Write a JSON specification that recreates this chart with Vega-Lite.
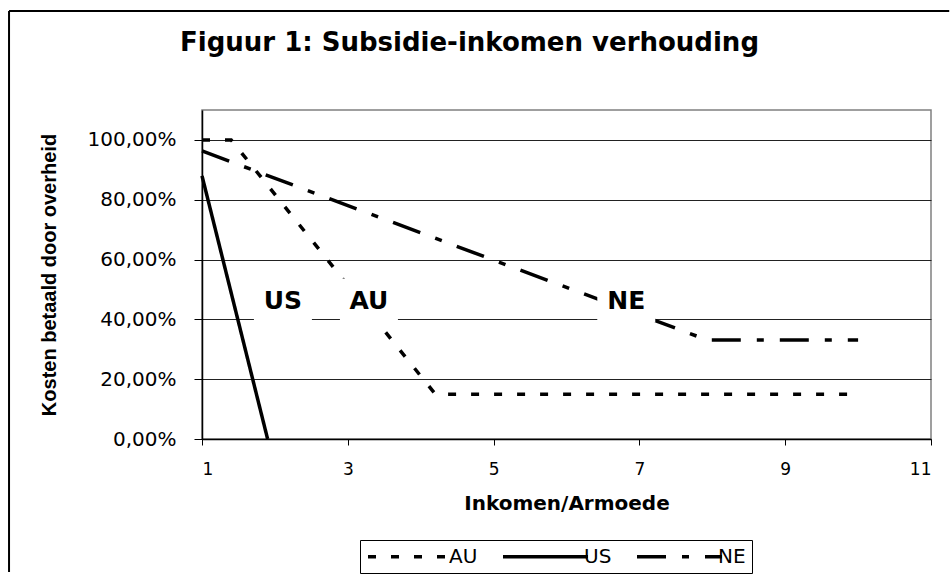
{
  "$schema": "https://vega.github.io/schema/vega-lite/v6.json",
  "width": 729,
  "height": 329,
  "autosize": {"type": "none"},
  "padding": {"left": 202, "top": 110, "right": 21, "bottom": 135},
  "background": "white",
  "title": {
    "text": "Figuur 1: Subsidie-inkomen verhouding",
    "font": "DejaVu Sans",
    "fontSize": 26,
    "fontWeight": "bold",
    "color": "black",
    "anchor": "middle",
    "frame": "group",
    "dx": -97,
    "offset": -67,
    "baseline": "alphabetic"
  },
  "config": {
    "locale": {"number": {"decimal": ",", "thousands": ".", "grouping": [3], "currency": ["€ ", ""]}},
    "view": {"stroke": "#808080", "strokeWidth": 1.5},
    "axis": {
      "domainColor": "black",
      "tickColor": "black",
      "labelColor": "black",
      "titleColor": "black",
      "labelFont": "DejaVu Sans",
      "titleFont": "DejaVu Sans"
    }
  },
  "datasets": {
    "lines": [
      {"series": "AU", "x": 1, "y": 1.0},
      {"series": "AU", "x": 1.4, "y": 1.0},
      {"series": "AU", "x": 4.2, "y": 0.15},
      {"series": "AU", "x": 10, "y": 0.15},
      {"series": "US", "x": 1, "y": 0.88},
      {"series": "US", "x": 1.9, "y": 0.0},
      {"series": "NE", "x": 1, "y": 0.963},
      {"series": "NE", "x": 7.93, "y": 0.331},
      {"series": "NE", "x": 10, "y": 0.331}
    ],
    "labels": [
      {"label": "US", "x": 2.11, "y": 0.463},
      {"label": "AU", "x": 3.29, "y": 0.463},
      {"label": "NE", "x": 6.82, "y": 0.463}
    ],
    "frame": [
      {"left": -1.647, "right": 11.25, "top": 1.431, "bottom": -0.445}
    ]
  },
  "layer": [
    {
      "data": {"name": "lines"},
      "mark": {"type": "line", "strokeWidth": 3.5, "color": "black", "strokeCap": "butt"},
      "encoding": {
        "x": {
          "field": "x",
          "type": "quantitative",
          "scale": {"domain": [1, 11], "nice": false, "zero": false},
          "axis": {
            "values": [1, 3, 5, 7, 9, 11],
            "format": "d",
            "title": "Inkomen/Armoede",
            "grid": false,
            "tickSize": 6,
            "domainWidth": 1.5,
            "labelFontSize": 17,
            "labelPadding": 16,
            "titleFontSize": 20,
            "titleFontWeight": "bold",
            "titlePadding": 16
          }
        },
        "y": {
          "field": "y",
          "type": "quantitative",
          "scale": {"domain": [0, 1.1], "nice": false},
          "axis": {
            "values": [0, 0.2, 0.4, 0.6, 0.8, 1.0],
            "format": ".2%",
            "title": "Kosten betaald door overheid",
            "grid": true,
            "gridColor": "#222222",
            "gridWidth": 1.2,
            "tickSize": 8,
            "domainWidth": 1.5,
            "labelFontSize": 20,
            "labelPadding": 18,
            "titleFont": "Liberation Sans",
            "titleFontSize": 20,
            "titleFontWeight": "bold",
            "titlePadding": 28
          }
        },
        "strokeDash": {
          "field": "series",
          "type": "nominal",
          "scale": {"domain": ["AU", "US", "NE"], "range": [[8, 15], [1, 0], [29, 16, 7, 16]]},
          "legend": {
            "orient": "none",
            "legendX": 158,
            "legendY": 430,
            "direction": "horizontal",
            "title": null,
            "symbolType": "M-1,0H9",
            "symbolSize": 289,
            "symbolStrokeWidth": 3.5,
            "symbolStrokeColor": "black",
            "labelFont": "DejaVu Sans",
            "labelFontSize": 20,
            "labelColor": "black",
            "labelOffset": 62,
            "columnPadding": 18,
            "strokeColor": "black",
            "fillColor": "white",
            "padding": 6
          }
        }
      }
    },
    {
      "data": {"name": "labels"},
      "mark": {"type": "point", "shape": "M-1,-0.76H1V0.76H-1Z", "filled": true, "color": "white", "opacity": 1, "size": 3364, "strokeWidth": 0},
      "encoding": {
        "x": {"field": "x", "type": "quantitative"},
        "y": {"field": "y", "type": "quantitative"}
      }
    },
    {
      "data": {"name": "labels"},
      "mark": {"type": "text", "font": "DejaVu Sans", "fontWeight": "bold", "fontSize": 25, "color": "black", "baseline": "middle", "align": "center"},
      "encoding": {
        "x": {"field": "x", "type": "quantitative"},
        "y": {"field": "y", "type": "quantitative"},
        "text": {"field": "label"}
      }
    },
    {
      "data": {"name": "frame"},
      "mark": {"type": "rule", "stroke": "black", "strokeWidth": 2, "clip": false, "strokeCap": "butt"},
      "encoding": {
        "x": {"field": "left", "type": "quantitative"},
        "x2": {"field": "right"},
        "y": {"field": "top", "type": "quantitative"}
      }
    },
    {
      "data": {"name": "frame"},
      "mark": {"type": "rule", "stroke": "black", "strokeWidth": 2, "clip": false, "strokeCap": "butt"},
      "encoding": {
        "x": {"field": "left", "type": "quantitative"},
        "y": {"field": "top", "type": "quantitative"},
        "y2": {"field": "bottom"}
      }
    }
  ]
}
